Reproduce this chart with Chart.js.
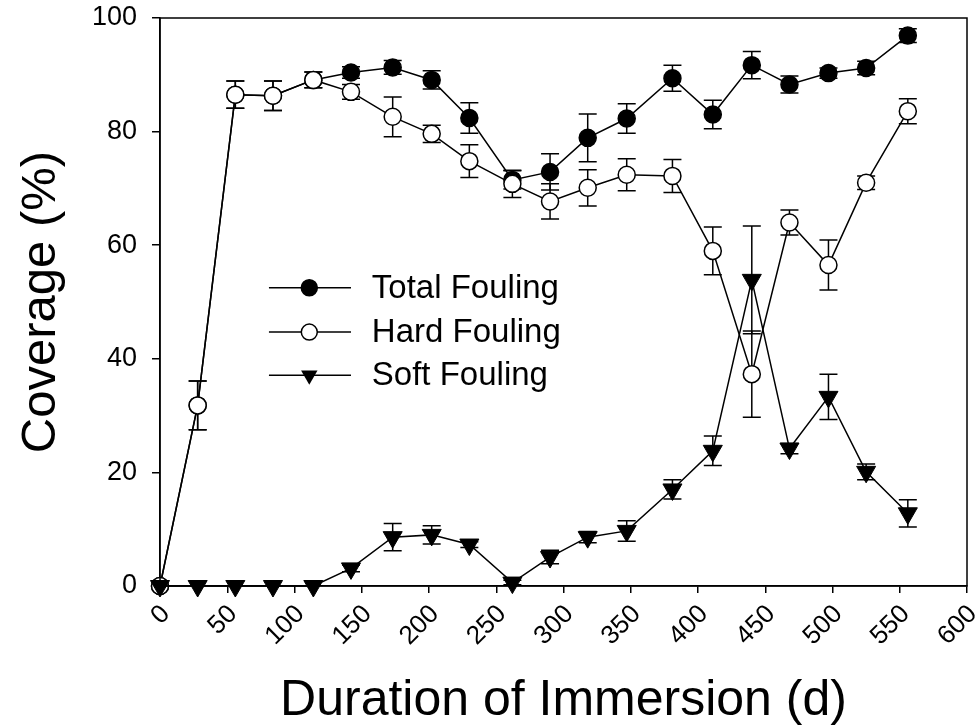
<!DOCTYPE html>
<html>
<head>
<meta charset="utf-8">
<script src="https://cdn.jsdelivr.net/npm/chart.js@4.4.1/dist/chart.umd.min.js"></script>
<style>
  html, body { margin: 0; padding: 0; background: #fff; }
  #wrap { width: 979px; height: 728px; }
</style>
</head>
<body>
<div id="wrap"><canvas id="chart"></canvas></div>
<script>
// days of immersion
var days = [0, 28, 56, 84, 114, 142, 173, 202, 230, 262, 290, 318, 347, 381, 411, 440, 468, 497, 525, 556];

var total    = [0, 31.8, 86.5, 86.3, 89.1, 90.4, 91.3, 89.1, 82.4, 71.5, 72.9, 78.9, 82.3, 89.4, 83.0, 91.7, 88.3, 90.3, 91.2, 96.9];
var totalErr = [0, 4.3, 2.4, 2.6, 1.4, 1.0, 1.2, 1.6, 2.7, 1.6, 3.2, 4.2, 2.6, 2.3, 2.5, 2.4, 1.5, 0.9, 1.2, 1.2];

var hard    = [0, 31.8, 86.5, 86.3, 89.1, 87.0, 82.6, 79.6, 74.8, 70.8, 67.7, 70.1, 72.4, 72.2, 59.0, 37.3, 64.0, 56.5, 71.0, 83.6];
var hardErr = [0, 4.3, 2.4, 2.6, 1.4, 1.3, 3.5, 1.5, 2.9, 2.4, 3.1, 3.2, 2.8, 2.9, 4.2, 7.6, 2.2, 4.4, 1.2, 2.2];

var soft    = [0, 0, 0, 0, 0, 3.1, 8.6, 9.0, 7.3, 0.6, 5.1, 8.6, 9.7, 17.0, 23.8, 53.9, 24.2, 33.3, 20.1, 12.8];
var softErr = [0, 0, 0, 0, 0, 0.6, 2.4, 1.6, 0.5, 0.4, 1.2, 1.0, 1.8, 1.7, 2.6, 9.5, 0.9, 4.0, 1.4, 2.4];

var seriesNames = ['Total Fouling', 'Hard Fouling', 'Soft Fouling'];
var xTicks = [0, 50, 100, 150, 200, 250, 300, 350, 400, 450, 500, 550, 600];
var yTicks = [0, 20, 40, 60, 80, 100];

var FONT = "'Liberation Sans', Arial, sans-serif";

var pts = function (vals) {
	return vals.map(function (v, i) { return {x: days[i], y: v}; });
};

// error bars under the markers
var errorBars = {
	id: 'errorBars',
	beforeDatasetsDraw: function (chart) {
		var ctx = chart.ctx, x = chart.scales.x, y = chart.scales.y;
		ctx.save();
		ctx.strokeStyle = '#000';
		ctx.lineWidth = 1.5;
		chart.data.datasets.forEach(function (ds) {
			ds.errs.forEach(function (e, i) {
				if (!e) return;
				var px = x.getPixelForValue(days[i]);
				var top = y.getPixelForValue(ds.data[i].y + e);
				var bot = y.getPixelForValue(ds.data[i].y - e);
				ctx.beginPath();
				ctx.moveTo(px, top); ctx.lineTo(px, bot);
				ctx.moveTo(px - 9, top); ctx.lineTo(px + 9, top);
				ctx.moveTo(px - 9, bot); ctx.lineTo(px + 9, bot);
				ctx.stroke();
			});
		});
		ctx.restore();
	}
};

// box round the plot + legend inside
var frameAndLegend = {
	id: 'frameAndLegend',
	afterDraw: function (chart) {
		var ctx = chart.ctx, a = chart.chartArea, x = chart.scales.x, y = chart.scales.y;
		ctx.save();
		ctx.strokeStyle = '#000';
		ctx.lineWidth = 1.5;
		ctx.strokeRect(a.left, a.top, a.right - a.left, a.bottom - a.top);

		var x0 = x.getPixelForValue(81), x1 = x.getPixelForValue(142);
		var xm = x.getPixelForValue(111), xt = x.getPixelForValue(157.5);
		var rows = [52.5, 44.7, 37.1];
		ctx.font = '33px ' + FONT;
		ctx.textBaseline = 'middle';
		ctx.fillStyle = '#000';
		rows.forEach(function (r, i) {
			var py = y.getPixelForValue(r);
			ctx.beginPath();
			ctx.moveTo(x0, py); ctx.lineTo(x1, py);
			ctx.stroke();
			ctx.beginPath();
			if (i === 2) {
				var rr = 9.5;
				ctx.moveTo(xm, py + rr);
				ctx.lineTo(xm - rr * 0.866, py - rr * 0.5);
				ctx.lineTo(xm + rr * 0.866, py - rr * 0.5);
				ctx.closePath();
				ctx.fillStyle = '#000';
				ctx.fill();
			} else {
				ctx.arc(xm, py, 8, 0, Math.PI * 2);
				ctx.fillStyle = i === 0 ? '#000' : '#fff';
				ctx.fill();
				ctx.stroke();
			}
			ctx.fillStyle = '#000';
			ctx.fillText(seriesNames[i], xt, py + 1);
		});
		ctx.restore();
	}
};

var ctx = document.getElementById('chart').getContext('2d');
var chart = new Chart(ctx, {
	type: 'line',
	data: {
		datasets: [{
			label: seriesNames[2],
			data: pts(soft),
			errs: softErr,
			order: 0,
			borderColor: '#000',
			borderWidth: 1.5,
			backgroundColor: '#000',
			pointStyle: 'triangle',
			rotation: 180,
			pointRadius: 11,
			pointBorderWidth: 1,
			pointBackgroundColor: '#000',
			pointBorderColor: '#000'
		}, {
			label: seriesNames[1],
			data: pts(hard),
			errs: hardErr,
			order: 1,
			borderColor: '#000',
			borderWidth: 1.5,
			pointRadius: 8.5,
			pointBorderWidth: 1.5,
			pointBackgroundColor: '#fff',
			pointBorderColor: '#000'
		}, {
			label: seriesNames[0],
			data: pts(total),
			errs: totalErr,
			order: 2,
			borderColor: '#000',
			borderWidth: 1.5,
			pointRadius: 8.5,
			pointBorderWidth: 1.5,
			pointBackgroundColor: '#000',
			pointBorderColor: '#000'
		}]
	},
	options: {
		responsive: true,
		maintainAspectRatio: false,
		animation: false,
		clip: false,
		layout: { padding: { top: 18, right: 9, left: 0, bottom: 0 } },
		plugins: {
			legend: { display: false },
			tooltip: { enabled: false }
		},
		elements: { line: { tension: 0 } },
		scales: {
			x: {
				type: 'linear',
				min: 0,
				max: 600,
				afterFit: function (s) { s.height = 142; s.paddingLeft = 0; s.paddingRight = 0; },
				afterBuildTicks: function (s) { s.ticks = xTicks.map(function (v) { return {value: v}; }); },
				border: { display: true, color: '#000', width: 1.5 },
				grid: { display: true, drawOnChartArea: false, drawTicks: true, tickLength: 7, color: '#000', lineWidth: 1.5 },
				ticks: {
					autoSkip: false,
					minRotation: 45,
					maxRotation: 45,
					padding: 6,
					labelOffset: 6,
					color: '#000',
					font: { family: FONT, size: 26 }
				},
				title: {
					display: true,
					text: 'Duration of Immersion (d)',
					color: '#000',
					font: { family: FONT, size: 50 },
					padding: { top: 0, bottom: -3 }
				}
			},
			y: {
				min: 0,
				max: 100,
				afterFit: function (s) { s.width = 160; s.paddingTop = 0; s.paddingBottom = 0; },
				afterBuildTicks: function (s) { s.ticks = yTicks.map(function (v) { return {value: v}; }); },
				border: { display: true, color: '#000', width: 1.5 },
				grid: { display: true, drawOnChartArea: false, drawTicks: true, tickLength: 8, color: '#000', lineWidth: 1.5 },
				ticks: {
					padding: 15,
					color: '#000',
					font: { family: FONT, size: 27 }
				},
				title: {
					display: true,
					text: 'Coverage (%)',
					color: '#000',
					font: { family: FONT, size: 49 },
					padding: { top: 12, bottom: 0 }
				}
			}
		}
	},
	plugins: [errorBars, frameAndLegend]
});
</script>
</body>
</html>
